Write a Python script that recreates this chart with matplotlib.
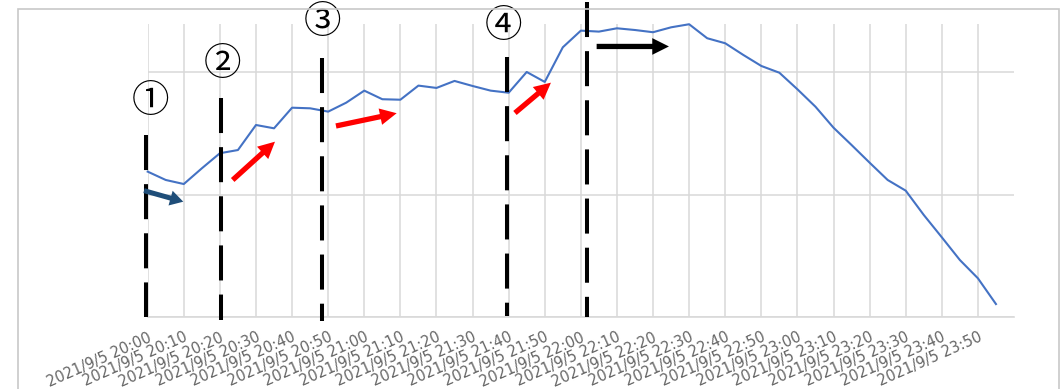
import numpy as np
import matplotlib
matplotlib.use("Agg")
import matplotlib.pyplot as plt
from matplotlib.patches import FancyArrowPatch, Rectangle

# Readings every 5 minutes, 2021/9/5 20:00 - 23:55
values = [1.187, 1.119, 1.086, 1.214, 1.337, 1.363, 1.567, 1.540, 1.708, 1.703,
          1.676, 1.749, 1.847, 1.777, 1.773, 1.888, 1.869, 1.926, 1.885, 1.847,
          1.830, 1.999, 1.918, 2.200, 2.336, 2.328, 2.355, 2.341, 2.323, 2.363,
          2.388, 2.274, 2.233, 2.138, 2.048, 1.993, 1.858, 1.716, 1.545, 1.404,
          1.260, 1.119, 1.032, 0.834, 0.652, 0.467, 0.318, 0.108]

# Category labels, one every 10 minutes
tick_labels = ["2021/9/5 20:00", "2021/9/5 20:10", "2021/9/5 20:20", "2021/9/5 20:30",
               "2021/9/5 20:40", "2021/9/5 20:50", "2021/9/5 21:00", "2021/9/5 21:10",
               "2021/9/5 21:20", "2021/9/5 21:30", "2021/9/5 21:40", "2021/9/5 21:50",
               "2021/9/5 22:00", "2021/9/5 22:10", "2021/9/5 22:20", "2021/9/5 22:30",
               "2021/9/5 22:40", "2021/9/5 22:50", "2021/9/5 23:00", "2021/9/5 23:10",
               "2021/9/5 23:20", "2021/9/5 23:30", "2021/9/5 23:40", "2021/9/5 23:50"]

# Phase boundaries (position in 5-minute steps) with dashed-line extent
phase_x = [-0.08, 4.06, 9.68, 19.92, 24.32]
phase_top = [1.485, 1.787, 2.111, 2.121, 2.572]
phase_bottom = [0.0, -0.02, -0.03, 0.01, 0.0]

# Phase numbers and where they sit
phase_names = ["①", "②", "③", "④"]
phase_name_x = [0.18, 4.12, 9.71, 19.74]
phase_name_y = [1.76, 2.06, 2.40, 2.37]

# Trend arrows: tail -> tip, colour
arrow_tail = [(-0.205, 1.032), (4.709, 1.119), (10.432, 1.559), (20.349, 1.665), (24.875, 2.207)]
arrow_tip = [(1.972, 0.942), (7.053, 1.431), (13.795, 1.663), (22.343, 1.912), (28.881, 2.207)]
arrow_color = ["#1F4E79", "#FF0000", "#FF0000", "#FF0000", "#000000"]

W, H = 1063, 389
fig = plt.figure(figsize=(W / 100, H / 100), dpi=100)

# chart frame
fig.patches.append(Rectangle((18 / W, -0.1), (1059 - 18) / W, 1.1 - 9 / H,
                             transform=fig.transFigure, fill=False,
                             edgecolor="#C8C8C8", linewidth=1.2))

ax = fig.add_axes([147.7 / W, 1 - 317.3 / H, (1014 - 147.7) / W, (317.3 - 24) / H])

x = np.arange(len(values))
ax.set_xlim(0, 48)
ax.set_ylim(0, 2.39)

grid_c = "#D9D9D9"
ax.set_yticks([0, 1, 2])
ax.set_yticklabels([])
ax.set_xticks(x[::2])
ax.set_xticklabels(tick_labels, rotation=24, ha="right", va="top",
                   rotation_mode="anchor", color="#666666", fontsize=10.5,
                   family="DejaVu Sans")
ax.tick_params(axis="both", length=0)
ax.tick_params(axis="x", pad=9)
ax.grid(True, color=grid_c, linewidth=1.1)
ax.set_axisbelow(True)
for s in ["top", "right", "left"]:
    ax.spines[s].set_visible(False)
ax.spines["bottom"].set_color(grid_c)
ax.spines["bottom"].set_linewidth(1.2)

ax.plot(x, values, color="#4472C4", linewidth=1.5, clip_on=False, zorder=3)

for px, top, bot in zip(phase_x, phase_top, phase_bottom):
    ax.plot([px, px], [top, bot], color="black", linewidth=2.9,
            linestyle=(0, (8.7, 3.5)), solid_capstyle="butt",
            dash_capstyle="butt", clip_on=False, zorder=4)

for name, nx, ny in zip(phase_names, phase_name_x, phase_name_y):
    ax.text(nx, ny, name, ha="center", va="center", fontsize=27,
            family=["Noto Sans CJK JP", "DejaVu Sans"], color="black",
            clip_on=False, zorder=5)

for (tx, ty), (hx, hy), c in zip(arrow_tail, arrow_tip, arrow_color):
    if c == "#1F4E79":
        style = "simple,head_length=9.5,head_width=11,tail_width=3.6"
    else:
        style = "simple,head_length=12,head_width=12,tail_width=3.8"
    arr = FancyArrowPatch((tx, ty), (hx, hy), arrowstyle=style, mutation_scale=1,
                          shrinkA=0, shrinkB=0, color=c, linewidth=0,
                          clip_on=False, zorder=6)
    ax.add_patch(arr)

fig.savefig("out.png", dpi=100)
